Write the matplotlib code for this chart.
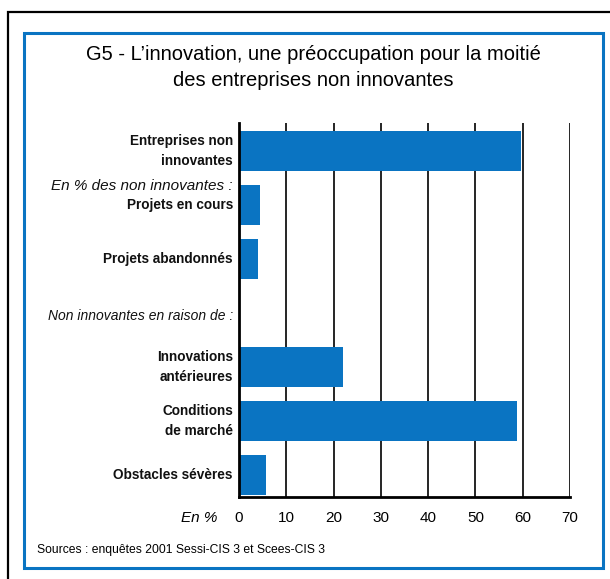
import matplotlib.pyplot as plt
from matplotlib.patches import Rectangle

plt.rcParams['font.family'] = ['Liberation Sans', 'DejaVu Sans']

# bar labels, top to bottom ('' = empty row used for the group heading)
labels = ['Entreprises non\ninnovantes', 'Projets en cours', 'Projets abandonnés', '',
          'Innovations\nantérieures', 'Conditions\nde marché', 'Obstacles sévères']
values = [59.6, 4.4, 4.0, None, 22.0, 58.8, 5.7]
xticks = [0, 10, 20, 30, 40, 50, 60, 70]

W, H = 610, 579
BLUE = '#0a74c2'

fig = plt.figure(figsize=(W / 100, H / 100), dpi=100)
fig.patch.set_facecolor('white')

def px(x0, y0, x1, y1):
    ''' pixel box (top-left origin) -> figure fraction rect '''
    return [x0 / W, 1 - y1 / H, (x1 - x0) / W, (y1 - y0) / H]

# frames
fig.patches.append(Rectangle((8 / W, -0.1), 1.2, 1 - 12 / H + 0.1, transform=fig.transFigure,
                             fill=False, ec='black', lw=1.6))
fig.patches.append(Rectangle((24 / W, 1 - 568 / H), (603 - 24) / W, (568 - 33) / H,
                             transform=fig.transFigure, fill=False, ec=BLUE, lw=2.2))

fig.text(313 / W, 1 - 54 / H, 'G5 - L\u2019innovation, une préoccupation pour la moitié',
         ha='center', va='center', fontsize=14.5)
fig.text(313 / W, 1 - 80 / H, 'des entreprises non innovantes',
         ha='center', va='center', fontsize=14.5)

ax = fig.add_axes(px(239, 123, 570, 497))
ypos = list(range(len(labels)))
for y, v in zip(ypos, values):
    if v is not None:
        ax.barh(y, v, height=0.74, color=BLUE, zorder=3)

ax.set_xlim(0, 70)
ax.set_ylim(6.41, -0.52)
ax.set_xticks(xticks)
ax.set_xticklabels([str(t) for t in xticks], fontsize=11)
ax.tick_params(axis='x', length=0, pad=10)
ax.set_yticks([])
for t in xticks[1:]:
    ax.axvline(t, color='black', lw=1.2, zorder=1)
for s in ['top', 'right']:
    ax.spines[s].set_visible(False)
ax.spines['left'].set_linewidth(2)
ax.spines['bottom'].set_linewidth(2)
ax.spines['left'].set_zorder(4)

for y, lab in zip(ypos, labels):
    if lab:
        ax.text(-1.3, y, lab, ha='right', va='center', fontsize=9.8, fontweight='bold',
                linespacing=1.6, color='#111111')

ax.text(-1.3, 0.64, 'En % des non innovantes :', ha='right', va='center',
        fontsize=11, style='italic', color='#111111')
ax.text(-1.3, 3.05, 'Non innovantes en raison de :', ha='right', va='center',
        fontsize=10, style='italic', color='#111111')

fig.text(217 / W, 1 - 518 / H, 'En %', ha='right', va='center', fontsize=11, style='italic')
fig.text(37 / W, 1 - 550 / H, 'Sources : enquêtes 2001 Sessi-CIS 3 et Scees-CIS 3',
         ha='left', va='center', fontsize=8.7)

fig.savefig('out.png', dpi=100)
